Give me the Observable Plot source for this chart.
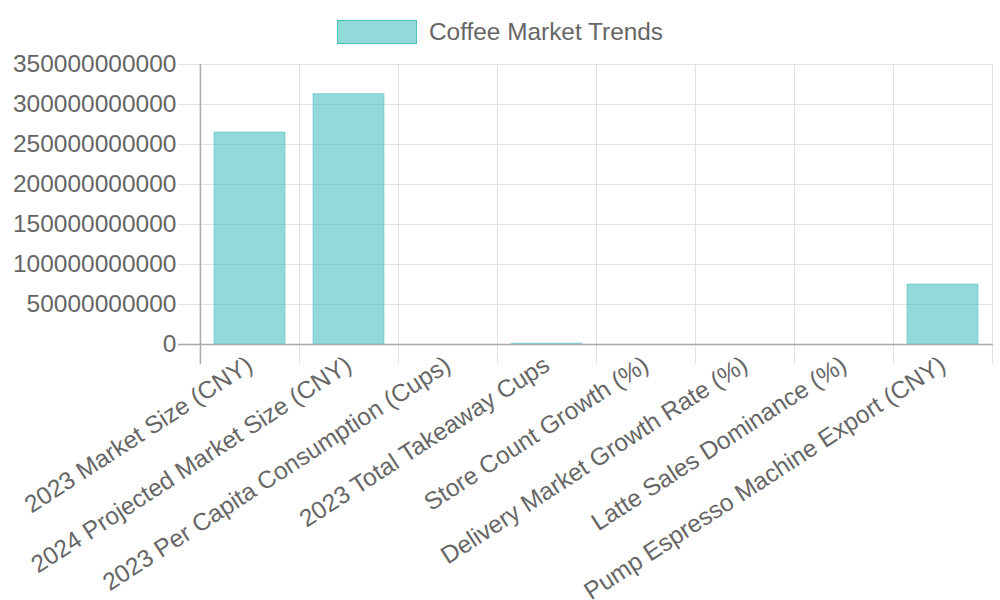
<!DOCTYPE html>
<html>
<head>
<meta charset="utf-8">
<script src="https://cdn.jsdelivr.net/npm/d3@7"></script>
<script src="https://cdn.jsdelivr.net/npm/@observablehq/plot@0.6"></script>
<style>
  html, body { margin: 0; padding: 0; background: #fff; }
  body { width: 1000px; height: 600px; overflow: hidden; font-family: "Liberation Sans", Arial, sans-serif; }
  #legend { height: 44px; display: flex; align-items: flex-end; justify-content: center; box-sizing: border-box; }
  #legend .box { width: 78px; height: 22px; background: rgba(75,192,192,0.6); border: 1px solid rgb(75,192,192); margin-right: 12px; }
  #legend .lbl { font-size: 24.4px; line-height: 24px; color: #666; }
</style>
</head>
<body>
<div id="legend"><span class="box"></span><span class="lbl">Coffee Market Trends</span></div>
<div id="chart"></div>
<script>
const categories = [
  "2023 Market Size (CNY)",
  "2024 Projected Market Size (CNY)",
  "2023 Per Capita Consumption (Cups)",
  "2023 Total Takeaway Cups",
  "Store Count Growth (%)",
  "Delivery Market Growth Rate (%)",
  "Latte Sales Dominance (%)",
  "Pump Espresso Machine Export (CNY)"
];
const values = [265000000000, 313000000000, 16.74, 1000000000, 58, 24, 52, 75000000000];
const yTicks = [0, 50000000000, 100000000000, 150000000000, 200000000000, 250000000000, 300000000000, 350000000000];

const data = categories.map((c, i) => ({category: c, value: values[i]}));

const W = 1000, H = 556, mL = 200, mR = 7;
const step = (W - mL - mR) / categories.length;
const fill = "rgba(75,192,192,0.6)";
const stroke = "rgb(75,192,192)";

const chart = Plot.plot({
  width: W,
  height: H,
  marginTop: 20,
  marginBottom: 256,
  marginLeft: mL,
  marginRight: mR,
  style: { fontFamily: "Liberation Sans, Arial, sans-serif", fontSize: "24.5px", color: "#666", background: "#fff", overflow: "visible" },
  x: { domain: categories, paddingInner: 0.28, paddingOuter: 0.14, label: null },
  y: { domain: [0, 350000000000], label: null },
  marks: [
    Plot.ruleY(yTicks, { stroke: "#e2e2e2", strokeOpacity: 1, insetLeft: -22 }),
    Plot.ruleX(categories, { x: d => d, stroke: "#e2e2e2", strokeOpacity: 1, dx: -step / 2, insetBottom: -20 }),
    Plot.ruleX(categories.slice(-1), { x: d => d, stroke: "#e2e2e2", strokeOpacity: 1, dx: step / 2, insetBottom: -20 }),
    Plot.barY(data, { x: "category", y: "value", fill: fill, stroke: stroke, strokeWidth: 1, strokeOpacity: 0.5 }),
    Plot.ruleX(categories.slice(0, 1), { x: d => d, stroke: "#aaa", strokeWidth: 1.5, dx: -step / 2, insetBottom: -20 }),
    Plot.ruleY([0], { stroke: "#aaa", strokeWidth: 1.5, insetLeft: -22 }),
    Plot.axisY({ ticks: yTicks, tickFormat: d3.format("d"), tickSize: 0, tickPadding: 24, fontSize: 24.5, fill: "#666" }),
    Plot.axisX({ tickSize: 0, tickRotate: -33, tickPadding: 18, fontSize: 24.5, fill: "#666" })
  ]
});
document.getElementById("chart").appendChild(chart);
</script>
</body>
</html>
